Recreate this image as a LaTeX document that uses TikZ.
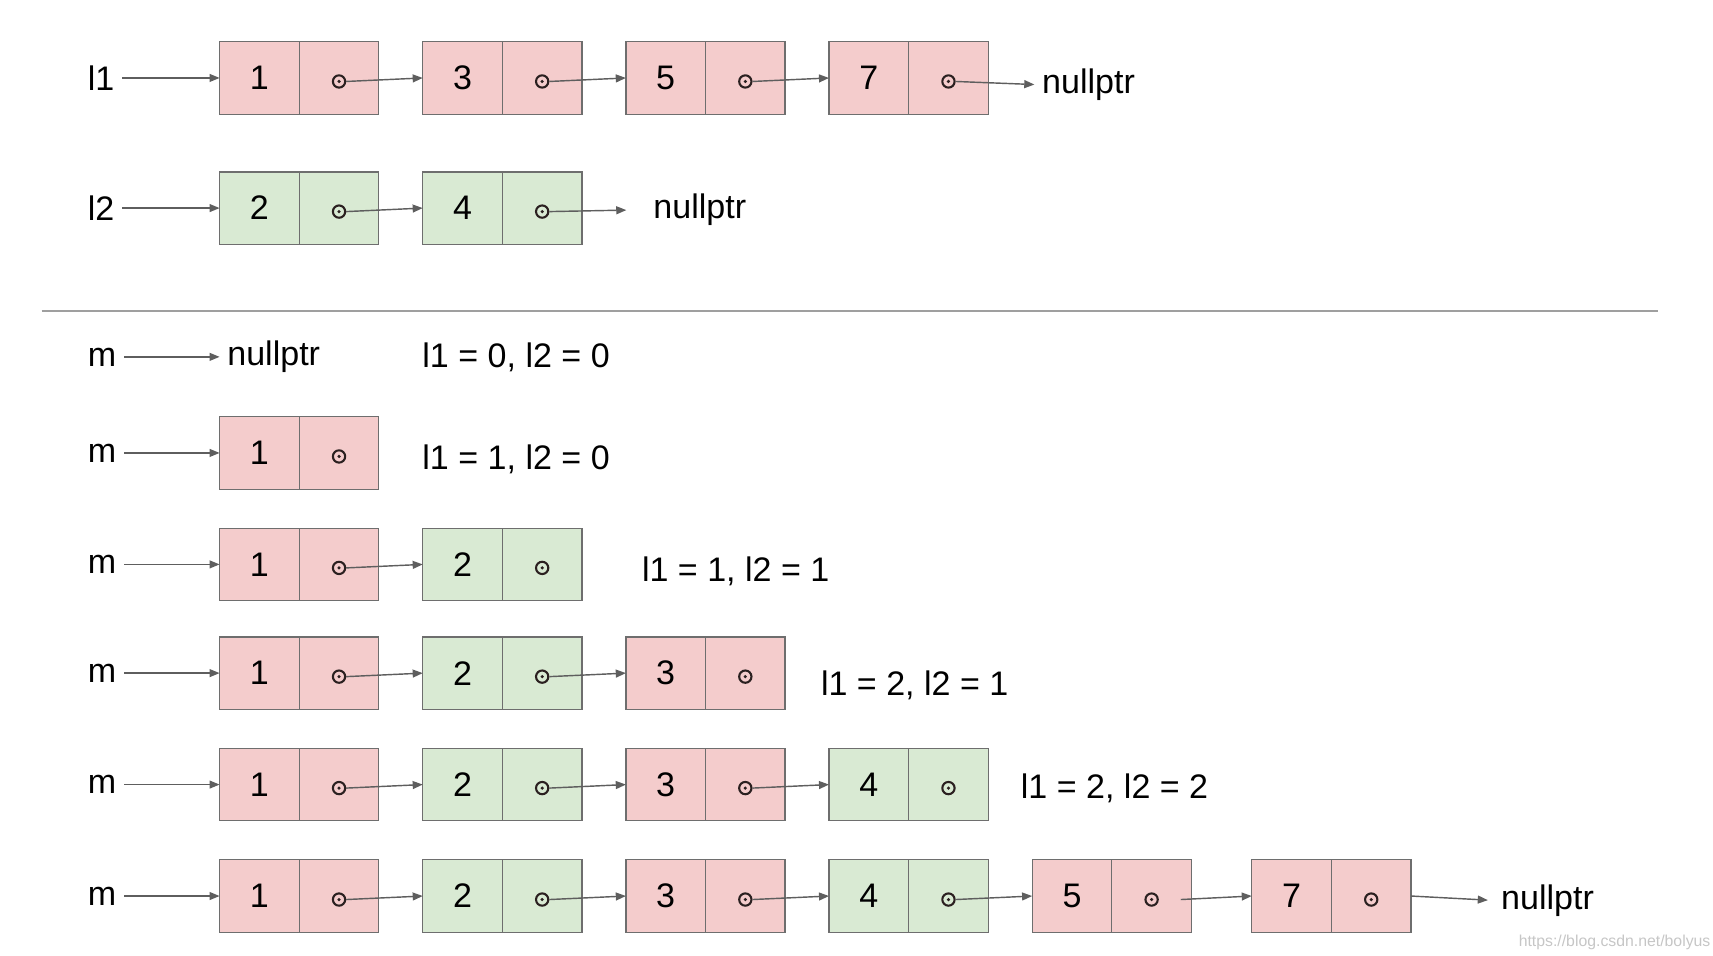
\documentclass[tikz,border=0pt]{standalone}
\usepackage{fontspec}
\setmainfont{Liberation Sans}
\usetikzlibrary{positioning,arrows.meta}
\definecolor{redfill}{HTML}{F4CCCC}
\definecolor{greenfill}{HTML}{D9EAD3}
\definecolor{cellline}{HTML}{6E6E6E}
\definecolor{arrowgray}{HTML}{5E5E5E}
\definecolor{dotcol}{HTML}{2B2020}

\begin{document}
\begin{tikzpicture}[
    x=1pt, y=-1pt,
    every node/.style={font=\fontsize{15.5}{18}\selectfont},
    valcell/.style={draw=cellline, line width=0.6pt, minimum width=36.25pt, minimum height=33pt, inner sep=0pt, outer sep=0pt, anchor=west},
    ptrcell/.style={draw=cellline, line width=0.6pt, minimum width=36.25pt, minimum height=33pt, inner sep=0pt, outer sep=0pt},
    ptrdot/.style={circle, draw=dotcol, line width=0.95pt, minimum size=5.6pt, inner sep=0pt,
        path picture={\fill[dotcol] (path picture bounding box.center) circle (0.8pt);}},
    arrow/.style={-{Triangle[length=4.6pt, width=3.6pt]}, draw=arrowgray, line width=0.65pt},
    txt/.style={anchor=west},
    sepline/.style={draw=gray!75, line width=0.8pt}
]
\useasboundingbox (0,0) rectangle (780,435.3);

% list l1
\node (alab) at (46,35.5) {l1};
\foreach \v/\x [count=\i] in {1/100,3/192.5,5/285,7/377.5}{
  \node[valcell, fill=redfill] (av\i) at (\x,35.5) {\v};
  \node[ptrcell, fill=redfill, right=0pt of av\i] (ap\i) {};
  \node[ptrdot] (ad\i) at ([yshift=-1.6pt]ap\i.center) {};
}
\node[txt] (anull) at (471,38.5) {nullptr};
\draw[arrow] (alab.east) -- (av1.west);
\foreach \i/\j in {1/2,2/3,3/4}
  \draw[arrow] (ad\i.east) -- (av\j.west);
\draw[arrow] (ad4.east) -- (anull.west);

% list l2
\node (blab) at (46,94.75) {l2};
\foreach \v/\x [count=\i] in {2/100,4/192.5}{
  \node[valcell, fill=greenfill] (bv\i) at (\x,94.75) {\v};
  \node[ptrcell, fill=greenfill, right=0pt of bv\i] (bp\i) {};
  \node[ptrdot] (bd\i) at ([yshift=-1.6pt]bp\i.center) {};
}
\node[txt] (bnull) at (294,95.5) {nullptr};
\draw[arrow] (blab.east) -- (bv1.west);
\draw[arrow] (bd1.east) -- (bv2.west);
\draw[arrow, shorten >=8.8pt] (bd2.east) -- (bnull.west);

\draw[sepline] (19,141.5) -- (755,141.5);

% merged list, step by step
\node (clab) at (46.5,162.5) {m};
\node[txt] (cnull) at (100,162.5) {nullptr};
\node[txt] (ctxt) at (188.8,162.5) {l1 = 0, l2 = 0};
\draw[arrow] (clab.east) -- (cnull.west);

\node (dlab) at (46.5,206.25) {m};
\node[valcell, fill=redfill] (dv1) at (100,206.25) {1};
\node[ptrcell, fill=redfill, right=0pt of dv1] (dp1) {};
\node[ptrdot] (dd1) at ([yshift=-1.6pt]dp1.center) {};
\node[txt] (dtxt) at (188.8,209) {l1 = 1, l2 = 0};
\draw[arrow] (dlab.east) -- (dv1.west);

\node (elab) at (46.5,257) {m};
\foreach \v/\c/\x [count=\i] in {1/redfill/100,2/greenfill/192.5}{
  \node[valcell, fill=\c] (ev\i) at (\x,257) {\v};
  \node[ptrcell, fill=\c, right=0pt of ev\i] (ep\i) {};
  \node[ptrdot] (ed\i) at ([yshift=-1.6pt]ep\i.center) {};
}
\node[txt] (etxt) at (288.8,260) {l1 = 1, l2 = 1};
\draw[arrow] (elab.east) -- (ev1.west);
\draw[arrow] (ed1.east) -- (ev2.west);

\node (flab) at (46.5,306.5) {m};
\foreach \v/\c/\x [count=\i] in {1/redfill/100,2/greenfill/192.5,3/redfill/285}{
  \node[valcell, fill=\c] (fv\i) at (\x,306.5) {\v};
  \node[ptrcell, fill=\c, right=0pt of fv\i] (fp\i) {};
  \node[ptrdot] (fd\i) at ([yshift=-1.6pt]fp\i.center) {};
}
\node[txt] (ftxt) at (370.3,312) {l1 = 2, l2 = 1};
\draw[arrow] (flab.east) -- (fv1.west);
\foreach \i/\j in {1/2,2/3}
  \draw[arrow] (fd\i.east) -- (fv\j.west);

\node (glab) at (46.5,357.25) {m};
\foreach \v/\c/\x [count=\i] in {1/redfill/100,2/greenfill/192.5,3/redfill/285,4/greenfill/377.5}{
  \node[valcell, fill=\c] (gv\i) at (\x,357.25) {\v};
  \node[ptrcell, fill=\c, right=0pt of gv\i] (gp\i) {};
  \node[ptrdot] (gd\i) at ([yshift=-1.6pt]gp\i.center) {};
}
\node[txt] (gtxt) at (461.3,359) {l1 = 2, l2 = 2};
\draw[arrow] (glab.east) -- (gv1.west);
\foreach \i/\j in {1/2,2/3,3/4}
  \draw[arrow] (gd\i.east) -- (gv\j.west);

\node (hlab) at (46.5,408) {m};
\foreach \v/\c/\x [count=\i] in {1/redfill/100,2/greenfill/192.5,3/redfill/285,4/greenfill/377.5,5/redfill/470,7/redfill/570}{
  \node[valcell, fill=\c] (hv\i) at (\x,408) {\v};
  \node[ptrcell, fill=\c, right=0pt of hv\i] (hp\i) {};
  \node[ptrdot] (hd\i) at ([yshift=-1.6pt]hp\i.center) {};
}
\node[txt] (hnull) at (680,410) {nullptr};
\draw[arrow] (hlab.east) -- (hv1.west);
\foreach \i/\j in {1/2,2/3,3/4,4/5}
  \draw[arrow] (hd\i.east) -- (hv\j.west);
\draw[arrow] ([xshift=10pt]hd5.east) -- (hv6.west);
\draw[arrow, shorten >=2.5pt] (hp6.east) -- (hnull.west);

\node[anchor=east, inner sep=0pt, text=gray!45, font=\fontsize{7.2}{8}\selectfont] (mark) at (779,429) {https://blog.csdn.net/bolyus};
\end{tikzpicture}
\end{document}
